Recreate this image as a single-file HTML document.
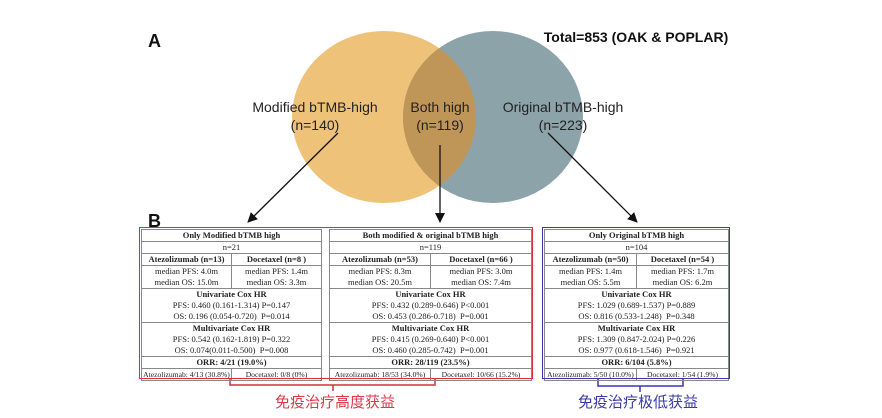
<!DOCTYPE html>
<html><head><meta charset="utf-8"><style>
body{margin:0;width:882px;height:418px;background:#fff;position:relative;overflow:hidden;font-family:"Liberation Sans",sans-serif}
.t{position:absolute;border-collapse:collapse;font-family:"Liberation Serif",serif;font-size:8.5px;color:#222;table-layout:fixed}
.t td{border:1px solid #888;text-align:center;padding:0;line-height:11px;white-space:nowrap;overflow:hidden}
.t tr.l td{font-size:7.6px}
.t b{font-weight:bold}
.box{position:absolute;border:1.5px solid}
</style></head><body>
<svg width="882" height="418" style="position:absolute;left:0;top:0">
<defs><marker id="ah" markerWidth="10" markerHeight="10" refX="9" refY="5" orient="auto" markerUnits="userSpaceOnUse"><path d="M0,0 L10,5 L0,10 z" fill="#111"/></marker>
<clipPath id="oc"><ellipse cx="384" cy="117" rx="92" ry="86"/></clipPath></defs>
<ellipse cx="384" cy="117" rx="92" ry="86" fill="#efc27a"/>
<ellipse cx="493" cy="117" rx="90" ry="86" fill="#8ca3a9"/>
<ellipse cx="493" cy="117" rx="90" ry="86" fill="#c09658" clip-path="url(#oc)"/>
<text x="148" y="47" font-size="18" font-weight="bold" fill="#111">A</text>
<text x="148" y="227" font-size="18" font-weight="bold" fill="#111">B</text>
<text x="636" y="42" font-size="14" font-weight="bold" text-anchor="middle" fill="#111">Total=853 (OAK &amp; POPLAR)</text>
<g font-size="14" fill="#222" text-anchor="middle">
<text x="315" y="112">Modified bTMB-high</text><text x="315" y="130">(n=140)</text>
<text x="440" y="112">Both high</text><text x="440" y="130">(n=119)</text>
<text x="563" y="112">Original bTMB-high</text><text x="563" y="130">(n=223)</text>
</g>
<line x1="338" y1="133" x2="248" y2="222" stroke="#111" stroke-width="1.3" marker-end="url(#ah)"/>
<line x1="440" y1="145" x2="440" y2="222" stroke="#111" stroke-width="1.3" marker-end="url(#ah)"/>
<line x1="548" y1="133" x2="637" y2="222" stroke="#111" stroke-width="1.3" marker-end="url(#ah)"/>
<path d="M230,378 V385 H435 V378 M333,385 V391" fill="none" stroke="#d0303c" stroke-width="1.5"/>
<path d="M598,378 V386 H683 V378 M640,386 V392" fill="none" stroke="#3a35b8" stroke-width="1.5"/>
<text x="335" y="407" font-size="15" fill="#d83a4a" text-anchor="middle" font-family="Noto Sans CJK SC,sans-serif">免疫治疗高度获益</text>
<text x="638" y="407" font-size="15" fill="#3a3aa8" text-anchor="middle" font-family="Noto Sans CJK SC,sans-serif">免疫治疗极低获益</text>
</svg>

<table class="t" style="left:141px;top:229px;width:181px">
<tr><td colspan="2"><b>Only Modified bTMB high</b></td></tr>
<tr><td colspan="2">n=21</td></tr>
<tr><td style="width:95px"><b>Atezolizumab (n=13)</b></td><td><b>Docetaxel (n=8 )</b></td></tr>
<tr><td>median PFS: 4.0m<br>median OS: 15.0m</td><td>median PFS: 1.4m<br>median OS: 3.3m</td></tr>
<tr><td colspan="2"><b>Univariate Cox HR</b><br>PFS: 0.460 (0.161-1.314) P=0.147<br>OS: 0.196 (0.054-0.720)&nbsp; P=0.014</td></tr>
<tr><td colspan="2"><b>Multivariate Cox HR</b><br>PFS: 0.542 (0.162-1.819) P=0.322<br>OS: 0.074(0.011-0.500)&nbsp; P=0.008</td></tr>
<tr><td colspan="2"><b>ORR: 4/21 (19.0%)</b></td></tr>
<tr class="l"><td>Atezolizumab: 4/13 (30.8%)</td><td>Docetaxel: 0/8 (0%)</td></tr>
</table>

<table class="t" style="left:329px;top:229px;width:203px">
<tr><td colspan="2"><b>Both modified &amp; original bTMB high</b></td></tr>
<tr><td colspan="2">n=119</td></tr>
<tr><td style="width:108px"><b>Atezolizumab (n=53)</b></td><td><b>Docetaxel (n=66 )</b></td></tr>
<tr><td>median PFS: 8.3m<br>median OS: 20.5m</td><td>median PFS: 3.0m<br>median OS: 7.4m</td></tr>
<tr><td colspan="2"><b>Univariate Cox HR</b><br>PFS: 0.432 (0.289-0.646) P&lt;0.001<br>OS: 0.453 (0.286-0.718)&nbsp; P=0.001</td></tr>
<tr><td colspan="2"><b>Multivariate Cox HR</b><br>PFS: 0.415 (0.269-0.640) P&lt;0.001<br>OS: 0.460 (0.285-0.742)&nbsp; P=0.001</td></tr>
<tr><td colspan="2"><b>ORR: 28/119 (23.5%)</b></td></tr>
<tr class="l"><td>Atezolizumab: 18/53 (34.0%)</td><td>Docetaxel: 10/66 (15.2%)</td></tr>
</table>

<table class="t" style="left:544px;top:229px;width:185px">
<tr><td colspan="2"><b>Only Original bTMB high</b></td></tr>
<tr><td colspan="2">n=104</td></tr>
<tr><td style="width:104px"><b>Atezolizumab (n=50)</b></td><td><b>Docetaxel (n=54 )</b></td></tr>
<tr><td>median PFS: 1.4m<br>median OS: 5.5m</td><td>median PFS: 1.7m<br>median OS: 6.2m</td></tr>
<tr><td colspan="2"><b>Univariate Cox HR</b><br>PFS: 1.029 (0.689-1.537) P=0.889<br>OS: 0.816 (0.533-1.248)&nbsp; P=0.348</td></tr>
<tr><td colspan="2"><b>Multivariate Cox HR</b><br>PFS: 1.309 (0.847-2.024) P=0.226<br>OS: 0.977 (0.618-1.546)&nbsp; P=0.921</td></tr>
<tr><td colspan="2"><b>ORR: 6/104 (5.8%)</b></td></tr>
<tr class="l"><td>Atezolizumab: 5/50 (10.0%)</td><td>Docetaxel: 1/54 (1.9%)</td></tr>
</table>

<div class="box" style="left:139px;top:227px;width:392px;height:150px;border-color:#d9303c"></div>
<div class="box" style="left:542px;top:227px;width:186px;height:150px;border-color:#3a35b8"></div>
</body></html>
